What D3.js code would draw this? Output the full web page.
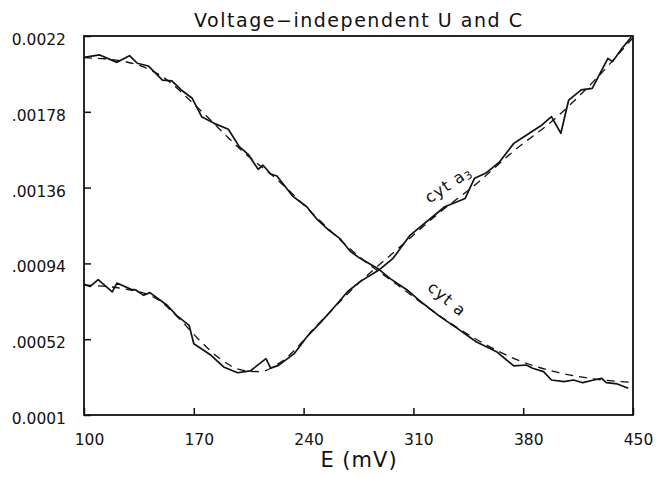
<!DOCTYPE html>
<html>
<head>
<meta charset="utf-8">
<script src="https://cdn.jsdelivr.net/npm/d3@7"></script>
<style>
  body { margin: 0; background: #fff; }
  svg { display: block; font-family: "DejaVu Sans", sans-serif; }
</style>
</head>
<body>
<div id="chart"></div>
<script>
// tick values / labels
const xTicks = [100, 170, 240, 310, 380, 450];
const yTicks = [0.0001, 0.00052, 0.00094, 0.00136, 0.00178, 0.0022];
const yTickLabels = ["0.0001", ".00052", ".00094", ".00136", ".00178", "0.0022"];

// cyt a, measured (solid)
const cytAE = [100, 110, 121, 129, 134, 141, 150, 156, 162, 169, 175, 183, 192, 199, 205, 211, 214, 219, 223, 233, 242, 248, 256, 263, 270, 276, 288, 295, 306, 316, 327, 338, 350, 363, 374, 382, 386, 393, 398, 406, 412, 418, 425, 430, 433, 440, 447];
const cytAU = [0.002082, 0.002095, 0.002054, 0.002091, 0.002049, 0.002034, 0.001956, 0.001951, 0.001901, 0.001855, 0.001753, 0.001716, 0.001683, 0.001587, 0.001541, 0.001461, 0.001485, 0.001435, 0.001424, 0.001313, 0.001254, 0.00119, 0.001125, 0.001079, 0.001005, 0.000968, 0.000907, 0.000857, 0.000793, 0.000719, 0.000645, 0.00058, 0.000506, 0.000451, 0.000372, 0.000377, 0.000359, 0.00034, 0.000294, 0.000285, 0.000294, 0.000279, 0.000294, 0.000303, 0.000279, 0.000272, 0.000248];

// cyt a, fit (dashed)
const cytAFitE = [100, 125, 149, 174, 200, 225, 250, 275, 300, 325, 350, 375, 400, 425, 450];
const cytAFitU = [0.00208, 0.00206, 0.00198, 0.00179, 0.00157, 0.00139, 0.00118, 0.00098, 0.00082, 0.00066, 0.00052, 0.00041, 0.00034, 0.0003, 0.00028];

// cyt a3, measured (solid)
const cytA3E = [100, 104, 109, 118, 121, 130, 133, 138, 142, 153, 159, 167, 170, 181, 189, 198, 206, 216, 219, 224, 234, 242, 251, 257, 268, 276, 288, 297, 308, 330, 343, 349, 356, 365, 374, 379, 392, 398, 404, 409, 417, 424, 429, 434, 437, 443, 449];
const cytA3U = [0.000824, 0.000813, 0.00085, 0.000782, 0.000831, 0.000796, 0.000793, 0.000763, 0.000778, 0.000708, 0.000652, 0.000597, 0.000495, 0.000431, 0.000366, 0.000334, 0.000344, 0.000412, 0.00036, 0.000375, 0.00044, 0.000532, 0.000615, 0.000672, 0.000783, 0.000839, 0.000903, 0.000968, 0.001097, 0.001254, 0.0013, 0.001412, 0.001439, 0.001503, 0.001605, 0.001633, 0.001707, 0.001753, 0.001661, 0.001845, 0.001901, 0.00191, 0.001993, 0.002076, 0.002058, 0.002132, 0.002194];

// cyt a3, fit (dashed)
const cytA3FitE = [100, 125, 147, 160, 173, 187, 200, 212, 225, 250, 275, 300, 325, 350, 375, 400, 425, 450];
const cytA3FitU = [0.00082, 0.0008, 0.00074, 0.00064, 0.00052, 0.00041, 0.00035, 0.00034, 0.00039, 0.00061, 0.00083, 0.00102, 0.00121, 0.00138, 0.00157, 0.00174, 0.00195, 0.00219];

const width = 658, height = 477;
const plot = { left: 84, right: 633, top: 36, bottom: 415 };
let svg, x, y;

function setupSVG() {
    svg = d3.select('#chart').append('svg')
        .attr('width', width)
        .attr('height', height);

    x = d3.scaleLinear().domain([100, 450]).range([plot.left, plot.right]);
    y = d3.scaleLinear().domain([0.0001, 0.0022]).range([plot.bottom, plot.top]);
}

function drawAxes() {
    const xAxis = d3.axisBottom(x)
        .tickValues(xTicks)
        .tickFormat(d3.format('d'))
        .tickSizeInner(-7)
        .tickSizeOuter(0)
        .tickPadding(19);

    const yAxis = d3.axisLeft(y)
        .tickValues(yTicks)
        .tickFormat((d, i) => yTickLabels[i])
        .tickSizeInner(-7)
        .tickSizeOuter(0)
        .tickPadding(18);

    const gx = svg.append('g')
        .attr('transform', `translate(0,${plot.bottom})`)
        .call(xAxis);
    gx.selectAll('text').attr('dx', 5);

    const gy = svg.append('g')
        .attr('transform', `translate(${plot.left},0)`)
        .call(yAxis);
    gy.selectAll('text').attr('dy', '0.55em');

    svg.selectAll('.domain').remove();
    svg.selectAll('.tick line').attr('stroke', '#111').attr('stroke-width', 1.5);
    svg.selectAll('.tick text')
        .attr('fill', '#111')
        .attr('font-size', 15.5)
        .attr('font-family', '"DejaVu Sans", sans-serif');

    // frame
    svg.append('rect')
        .attr('x', plot.left)
        .attr('y', plot.top)
        .attr('width', plot.right - plot.left)
        .attr('height', plot.bottom - plot.top)
        .attr('fill', 'none')
        .attr('stroke', '#111')
        .attr('stroke-width', 1.8);
}

function drawSeries(es, us, dashed) {
    const line = d3.line()
        .x(d => x(d[0]))
        .y(d => y(d[1]))
        .curve(dashed ? d3.curveMonotoneX : d3.curveLinear);

    svg.append('path')
        .datum(d3.zip(es, us))
        .attr('d', line)
        .attr('fill', 'none')
        .attr('stroke', '#111')
        .attr('stroke-width', dashed ? 1.3 : 1.7)
        .attr('stroke-dasharray', dashed ? '8,6' : null)
        .attr('stroke-linejoin', 'round');
}

function drawLabels() {
    svg.append('text')
        .attr('x', 358)
        .attr('y', 27)
        .attr('text-anchor', 'middle')
        .attr('font-size', 19)
        .attr('textLength', 328)
        .attr('lengthAdjust', 'spacing')
        .attr('fill', '#111')
        .text('Voltage−independent U and C');

    svg.append('text')
        .attr('x', 359)
        .attr('y', 467)
        .attr('text-anchor', 'middle')
        .attr('font-size', 21)
        .attr('letter-spacing', 1)
        .attr('fill', '#111')
        .text('E (mV)');

    const a3 = svg.append('text')
        .attr('transform', 'translate(448,184) rotate(-34)')
        .attr('text-anchor', 'middle')
        .attr('dominant-baseline', 'central')
        .attr('font-size', 16)
        .attr('letter-spacing', 1)
        .attr('fill', '#111');
    a3.append('tspan').text('cyt a');
    a3.append('tspan').attr('font-size', 11).attr('dy', 4).text('3');

    svg.append('text')
        .attr('transform', 'translate(447,299) rotate(40)')
        .attr('text-anchor', 'middle')
        .attr('dominant-baseline', 'central')
        .attr('font-size', 16)
        .attr('letter-spacing', 1)
        .attr('fill', '#111')
        .text('cyt a');
}

setupSVG();
drawSeries(cytAFitE, cytAFitU, true);
drawSeries(cytA3FitE, cytA3FitU, true);
drawSeries(cytAE, cytAU, false);
drawSeries(cytA3E, cytA3U, false);
drawAxes();
drawLabels();
</script>
</body>
</html>
